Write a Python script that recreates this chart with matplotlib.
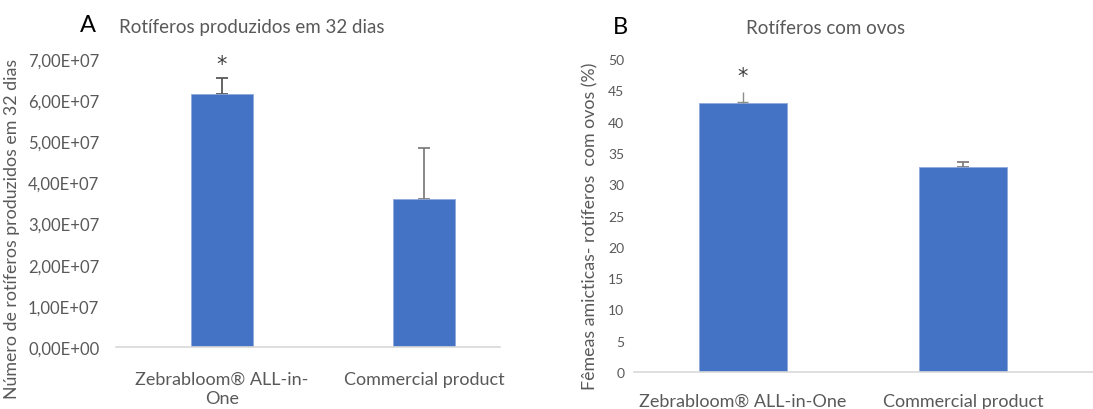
import matplotlib
matplotlib.use("Agg")
import matplotlib.pyplot as plt

plt.rcParams['font.family'] = ['Lato', 'DejaVu Sans']

# Panel A: rotifers produced over 32 days
categories_a = ["Zebrabloom® ALL-in-\nOne", "Commercial product"]
values_a = [6.16e7, 3.59e7]
errors_a = [0.37e7, 1.24e7]
yticks_a = [0, 1e7, 2e7, 3e7, 4e7, 5e7, 6e7, 7e7]
yticklabels_a = ["0,00E+00", "1,00E+07", "2,00E+07", "3,00E+07",
                 "4,00E+07", "5,00E+07", "6,00E+07", "7,00E+07"]

# Panel B: amictic females carrying eggs (%)
categories_b = ["Zebrabloom® ALL-in-One", "Commercial product"]
values_b = [43.0, 32.7]
errors_b = [1.7, 0.9]
yticks_b = list(range(0, 55, 5))

BAR = "#4472C4"
TXT = "#595959"
GRID = "#D9D9D9"

W, H = 1093, 410
fig = plt.figure(figsize=(W / 100, H / 100), dpi=100)


def px_axes(x0, y0, x1, y1):
    return fig.add_axes([x0 / W, 1 - y1 / H, (x1 - x0) / W, (y1 - y0) / H])


def style(ax):
    for s in ("top", "right", "left"):
        ax.spines[s].set_visible(False)
    ax.spines["bottom"].set_color(GRID)
    ax.spines["bottom"].set_linewidth(1.2)
    ax.tick_params(axis="both", length=0, colors=TXT)


# ---- Panel A ----
axA = px_axes(116, 60, 500, 348)
xa = [0, 1]
axA.bar(xa, values_a, width=0.31, color=BAR, edgecolor="#8FAADC", linewidth=0.6, zorder=2)
axA.errorbar(xa[0], values_a[0], yerr=[[0], [errors_a[0]]], fmt="none",
             ecolor="#595959", elinewidth=1.3, capsize=4, capthick=1.3, zorder=1)
axA.errorbar(xa[1], values_a[1], yerr=[[0], [errors_a[1]]], fmt="none",
             ecolor="#7F7F7F", elinewidth=1.3, capsize=4, capthick=1.3, zorder=1)
axA.set_xlim(-0.525, 1.376)
axA.set_ylim(0, 7e7)
axA.set_yticks(yticks_a)
axA.set_yticklabels(yticklabels_a, fontsize=12, color=TXT)
axA.set_xticks(xa)
axA.set_xticklabels(categories_a, fontsize=13, color=TXT, linespacing=1.25)
axA.tick_params(axis="x", pad=17)
axA.tick_params(axis="y", pad=12)
style(axA)
axA.text(xa[0], 6.88e7, "*", ha="center", va="center", fontsize=15, color="#404040",
         family="DejaVu Sans")
axA.set_ylabel("Número de rotíferos produzidos em 32 dias", fontsize=12.8, color=TXT)
axA.yaxis.set_label_coords(-0.25, 0.415)

fig.text(88 / W, 1 - 26 / H, "A", fontsize=17, ha="center", va="center", color="black")
fig.text(119 / W, 1 - 27 / H, "Rotíferos produzidos em 32 dias", fontsize=13.5, ha="left",
         va="center", color=TXT)

# ---- Panel B ----
axB = px_axes(634, 60, 1093, 373)
xb = [0, 1]
axB.bar(xb, values_b, width=0.4, color=BAR, edgecolor="#8FAADC", linewidth=0.6, zorder=2)
# first error bar: stem rising from the bar with its cap at the base
axB.vlines(xb[0], values_b[0], values_b[0] + errors_b[0], color="#8C8C8C", linewidth=1.0, zorder=3)
axB.hlines(values_b[0] + 0.15, xb[0] - 0.025, xb[0] + 0.025, color="#8C8C8C", linewidth=1.0, zorder=3)
axB.errorbar(xb[1], values_b[1], yerr=[[0], [errors_b[1]]], fmt="none",
             ecolor="#7F7F7F", elinewidth=1.3, capsize=4, capthick=1.3, zorder=1)
axB.set_xlim(-0.495, 1.59)
axB.set_ylim(0, 50)
axB.set_yticks(yticks_b)
axB.set_yticklabels([str(v) for v in yticks_b], fontsize=10, color=TXT)
axB.set_xticks(xb)
axB.set_xticklabels(categories_b, fontsize=13, color=TXT)
axB.tick_params(axis="x", pad=15)
axB.tick_params(axis="y", pad=7)
style(axB)
axB.text(xb[0], 47.3, "*", ha="center", va="center", fontsize=15, color="#404040",
         family="DejaVu Sans")
axB.set_ylabel("Fêmeas amicticas- rotíferos  com ovos (%)", fontsize=12.8, color=TXT)
axB.yaxis.set_label_coords(-0.078, 0.47)

fig.text(620 / W, 1 - 27 / H, "B", fontsize=17, ha="center", va="center", color="black")
fig.text(826 / W, 1 - 29 / H, "Rotíferos com ovos", fontsize=13.5, ha="center",
         va="center", color=TXT)

fig.savefig("out.png", dpi=100, facecolor="white")
